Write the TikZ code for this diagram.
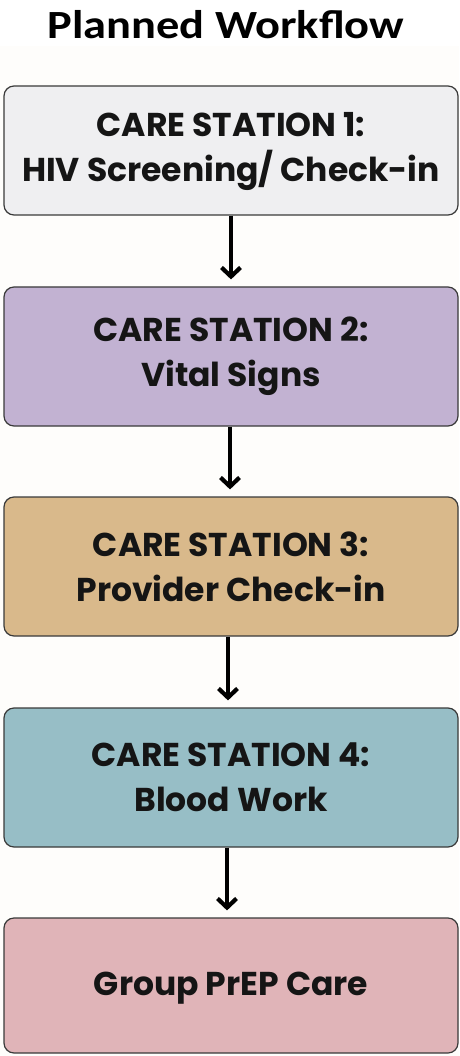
\documentclass[tikz,border=0pt]{standalone}
\usepackage{fontspec}
\setmainfont{Poppins}
\newfontfamily\titlefont{Carlito}
\usetikzlibrary{arrows.meta}
\definecolor{bg}{HTML}{FEFDFB}
\definecolor{cA}{HTML}{EFEFF1}
\definecolor{cB}{HTML}{C2B2D2}
\definecolor{cC}{HTML}{D9B98B}
\definecolor{cD}{HTML}{97BEC6}
\definecolor{cE}{HTML}{E0B4B8}
\definecolor{edge}{HTML}{3A3A3A}
\definecolor{ink}{HTML}{151515}
\tikzset{
  stbox/.style={draw=edge, line width=1.2pt, rounded corners=10pt, minimum width=454pt,
    align=center, text=ink, font=\fontsize{33}{45}\selectfont\bfseries, inner sep=0pt},
  arr/.style={line width=4.2pt, draw=black, -{Straight Barb[length=9pt,width=19pt,line width=4.2pt]}}
}
\begin{document}
\begin{tikzpicture}[x=1pt,y=-1pt]
\fill[bg] (0,0) rectangle (459,1056);
\fill[white] (0,0) rectangle (459,46);
\useasboundingbox (0,0) rectangle (459,1056);
\node[font=\titlefont\fontsize{40}{44}\selectfont\bfseries, text=black, inner sep=0pt, anchor=base] (title) at (226,39) {\scalebox{1.16}[1]{Planned Workflow}};
\node[stbox, fill=cA, minimum height=129pt, text depth=8pt] (b1) at (231,150.5) {CARE STATION 1:\\HIV Screening/ Check-in};
\node[stbox, fill=cB, minimum height=139pt] (b2) at (231,356.5) {CARE STATION 2:\\Vital Signs};
\node[stbox, fill=cC, minimum height=139pt] (b3) at (231,566.5) {CARE STATION 3:\\Provider Check-in};
\node[stbox, fill=cD, minimum height=139pt] (b4) at (231,777.5) {CARE STATION 4:\\Blood Work};
\node[stbox, fill=cE, minimum height=135pt, text height=28pt] (b5) at (231,985.5) {Group PrEP Care};
\draw[arr] (b1.south) -- ([yshift=7pt]b2.north);
\draw[arr] ([xshift=-1pt]b2.south) -- ([xshift=-1pt,yshift=7pt]b3.north);
\draw[arr] ([xshift=-3pt]b3.south) -- ([xshift=-3pt,yshift=7pt]b4.north);
\draw[arr] ([xshift=-4pt]b4.south) -- ([xshift=-4pt,yshift=7pt]b5.north);
\end{tikzpicture}
\end{document}
